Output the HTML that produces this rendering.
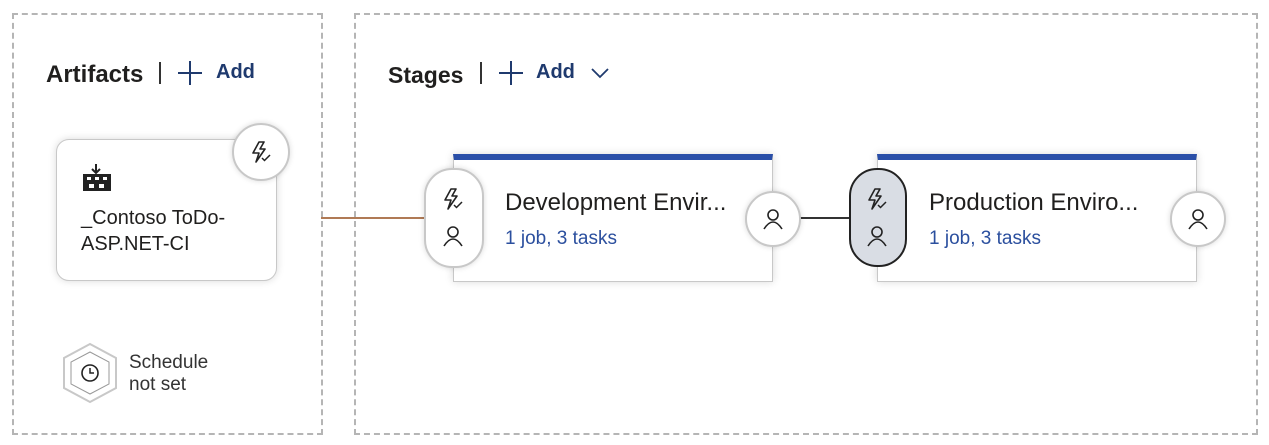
<!DOCTYPE html>
<html><head><meta charset="utf-8"><style>
body{margin:0;width:1269px;height:445px;background:#fff;font-family:"Liberation Sans",sans-serif;position:relative;overflow:hidden;color:#201f1e}
.a{position:absolute}
.box{border:2px dashed #b5b5b5}
.hd{font-size:23px;font-weight:bold;color:#201f1e}
.add{font-size:20px;font-weight:bold;color:#1f3a6e}
.card{background:#fff;border:1.5px solid #c8c8c8;box-shadow:0 0 8px rgba(0,0,0,.15);box-sizing:border-box}
.circ{border-radius:50%;background:#fff;border:2px solid #c8c8c8;box-shadow:0 0 6px rgba(0,0,0,.15);display:flex;align-items:center;justify-content:center}
.t{font-size:24px;color:#201f1e}
.s{font-size:19px;color:#2b4f9e}
</style></head><body>
<div class="a box" style="left:12px;top:13px;width:307px;height:418px"></div>
<div class="a box" style="left:354px;top:13px;width:900px;height:418px"></div>

<div class="a hd" style="left:46px;top:61px;font-size:24px">Artifacts</div>
<div class="a" style="left:159px;top:62px;width:2px;height:22px;background:#333"></div>
<svg class="a" style="left:177px;top:60px" width="26" height="26"><path d="M13 1v24M1 13h24" stroke="#1f3a6e" stroke-width="2"/></svg>
<div class="a add" style="left:216px;top:61px">Add</div>

<div class="a hd" style="left:388px;top:62px">Stages</div>
<div class="a" style="left:480px;top:62px;width:2px;height:22px;background:#333"></div>
<svg class="a" style="left:498px;top:60px" width="26" height="26"><path d="M13 1v24M1 13h24" stroke="#1f3a6e" stroke-width="2"/></svg>
<div class="a add" style="left:536px;top:61px">Add</div>
<svg class="a" style="left:590px;top:66px" width="20" height="14"><path d="M2 3 L10 11 L18 3" fill="none" stroke="#1f3a6e" stroke-width="1.8"/></svg>

<svg width="0" height="0" style="position:absolute"><defs>
<g id="bolt"><path d="M9 1 L3 12 H9 L6 21 L15 8 H10 L14 1 Z" fill="none" stroke="#222" stroke-width="1.6" stroke-linejoin="round"/><path d="M12 17 l2.5 2.5 L20 14" fill="none" stroke="#222" stroke-width="1.5"/></g>
<g id="user"><circle cx="12" cy="8" r="5" fill="none" stroke="#222" stroke-width="1.6"/><path d="M3 22 q9-14 18 0" fill="none" stroke="#222" stroke-width="1.6"/></g>
</defs></svg>

<!-- connectors -->
<div class="a" style="left:321px;top:217px;width:105px;height:1.5px;background:#b07a55"></div>
<div class="a" style="left:800px;top:217px;width:52px;height:2px;background:#333"></div>

<!-- artifact card -->
<div class="a card" style="left:56px;top:139px;width:221px;height:142px;border-radius:13px"></div>
<svg class="a" style="left:82px;top:162px" width="32" height="32"><path d="M14 2 v8 M10 7 l4 4 4-4" stroke="#222" stroke-width="2" fill="none"/><rect x="1" y="12" width="28" height="17" fill="#222"/><rect x="5" y="15" width="4" height="3" fill="#fff"/><rect x="13" y="15" width="4" height="3" fill="#fff"/><rect x="21" y="15" width="4" height="3" fill="#fff"/><rect x="7" y="22" width="5" height="4" fill="#fff"/><rect x="17" y="22" width="5" height="4" fill="#fff"/></svg>
<div class="a" style="left:81px;top:205px;font-size:20px;line-height:26px">_Contoso ToDo-<br>ASP.NET-CI</div>
<div class="a circ" style="left:232px;top:123px;width:54px;height:54px"><svg width="22" height="22"><use href="#bolt"/></svg></div>

<!-- schedule -->
<svg class="a" style="left:60px;top:342px" width="60" height="62"><polygon points="30,2 56,16 56,46 30,60 4,46 4,16" fill="#fff" stroke="#c8c8c8" stroke-width="2"/><polygon points="30,10 49,20 49,42 30,52 11,42 11,20" fill="none" stroke="#999" stroke-width="1"/><circle cx="30" cy="31" r="8" fill="none" stroke="#222" stroke-width="1.6"/><path d="M30 26 v5 h4" stroke="#222" stroke-width="1.5" fill="none"/></svg>
<div class="a" style="left:129px;top:352px;font-size:19px;line-height:22px;color:#333">Schedule<br>not set</div>

<!-- dev stage -->
<div class="a card" style="left:453px;top:154px;width:320px;height:128px;border-top:6px solid #2a4fa8"></div>
<div class="a t" style="left:505px;top:189px">Development Envir...</div>
<div class="a s" style="left:505px;top:228px">1 job, 3 tasks</div>
<div class="a" style="left:424px;top:168px;width:56px;height:96px;border-radius:28px;background:#fff;border:2px solid #c8c8c8;box-shadow:0 0 6px rgba(0,0,0,.15)"></div>
<svg class="a" style="left:442px;top:188px" width="22" height="22"><use href="#bolt"/></svg>
<svg class="a" style="left:441px;top:224px" width="24" height="24"><use href="#user"/></svg>
<div class="a circ" style="left:745px;top:191px;width:52px;height:52px"><svg width="24" height="24"><use href="#user"/></svg></div>

<!-- prod stage -->
<div class="a card" style="left:877px;top:154px;width:320px;height:128px;border-top:6px solid #2a4fa8"></div>
<div class="a t" style="left:929px;top:189px">Production Enviro...</div>
<div class="a s" style="left:929px;top:228px">1 job, 3 tasks</div>
<div class="a" style="left:849px;top:168px;width:54px;height:95px;border-radius:28px;background:#d9dde4;border:2px solid #222"></div>
<svg class="a" style="left:866px;top:188px" width="22" height="22"><use href="#bolt"/></svg>
<svg class="a" style="left:865px;top:224px" width="24" height="24"><use href="#user"/></svg>
<div class="a circ" style="left:1170px;top:191px;width:52px;height:52px"><svg width="24" height="24"><use href="#user"/></svg></div>
</body></html>
